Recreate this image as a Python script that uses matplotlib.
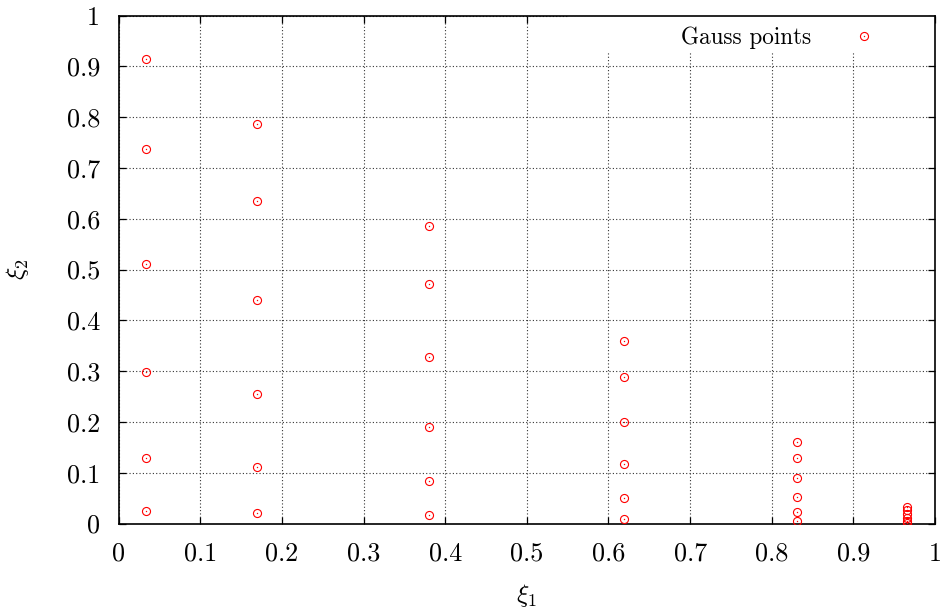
import matplotlib
matplotlib.use('Agg')
import matplotlib.pyplot as plt
from matplotlib.legend_handler import HandlerTuple
from matplotlib.patches import Rectangle

plt.rcParams.update({
    'font.family': 'serif',
    'font.serif': ['cmr10', 'DejaVu Serif'],
    'mathtext.fontset': 'cm',
    'axes.unicode_minus': False,
    'axes.formatter.use_mathtext': True,
})

# Data: xi1 position of each column of Gauss points, and the xi2 values in each column
xi1_columns = [0.0338, 0.1694, 0.3807, 0.6193, 0.8306, 0.9662]
xi2_col1 = [0.025, 0.129, 0.298, 0.511, 0.737, 0.915]
xi2_col2 = [0.021, 0.111, 0.255, 0.440, 0.635, 0.787]
xi2_col3 = [0.016, 0.083, 0.327, 0.190, 0.472, 0.586]
xi2_col4 = [0.009, 0.050, 0.117, 0.200, 0.289, 0.359]
xi2_col5 = [0.005, 0.023, 0.052, 0.090, 0.129, 0.161]
xi2_col6 = [0.001, 0.0045, 0.010, 0.018, 0.026, 0.032]
xi2_columns = [xi2_col1, xi2_col2, xi2_col3, xi2_col4, xi2_col5, xi2_col6]

tick_values = [0, 0.1, 0.2, 0.3, 0.4, 0.5, 0.6, 0.7, 0.8, 0.9, 1]
tick_labels = ['0', '0.1', '0.2', '0.3', '0.4', '0.5', '0.6', '0.7', '0.8', '0.9', '1']

xs, ys = [], []
for x, col in zip(xi1_columns, xi2_columns):
    for y in col:
        xs.append(x)
        ys.append(y)

fig = plt.figure(figsize=(9.42, 6.13), dpi=100)
ax = fig.add_axes([0.126, 0.146, 0.8666, 0.8284])
ax.set_xlim(0, 1)
ax.set_ylim(0, 1)
ax.set_xticks(tick_values)
ax.set_xticklabels(tick_labels)
ax.set_yticks(tick_values)
ax.set_yticklabels(tick_labels)
ax.set_axisbelow(True)
ax.grid(True, linestyle=(0, (1, 2)), color='#333333', linewidth=0.8)
ax.tick_params(direction='in', top=True, right=True, length=5, width=0.9,
               pad=13.5, labelsize=18.8)
for s in ax.spines.values():
    s.set_linewidth(1.2)

# white key background (gnuplot-style key box)
ax.add_patch(Rectangle((0.55, 0.927), 0.45, 0.073, transform=ax.transAxes,
                       facecolor='white', edgecolor='none', zorder=1))

h1, = ax.plot(xs, ys, linestyle='none', marker='o', markersize=5.8,
              markerfacecolor='none', markeredgecolor='red', markeredgewidth=0.8, zorder=3)
h2, = ax.plot(xs, ys, linestyle='none', marker='o', markersize=1.0,
              color='red', markeredgewidth=0, zorder=3)

ax.legend([(h1, h2)], ['Gauss points'], handler_map={tuple: HandlerTuple(ndivide=1)},
          loc='upper right', bbox_to_anchor=(1.0, 1), borderaxespad=0,
          frameon=False, markerfirst=False, fontsize=16.7,
          borderpad=0.45, handlelength=5.2, handletextpad=-0.31)

ax.set_xlabel(r'$\xi_1$', fontsize=18.5)
ax.set_ylabel(r'$\xi_2$', fontsize=18.5)
ax.xaxis.set_label_coords(0.5, -0.115)
ax.yaxis.set_label_coords(-0.107, 0.5)

fig.savefig('out.png', dpi=100)
